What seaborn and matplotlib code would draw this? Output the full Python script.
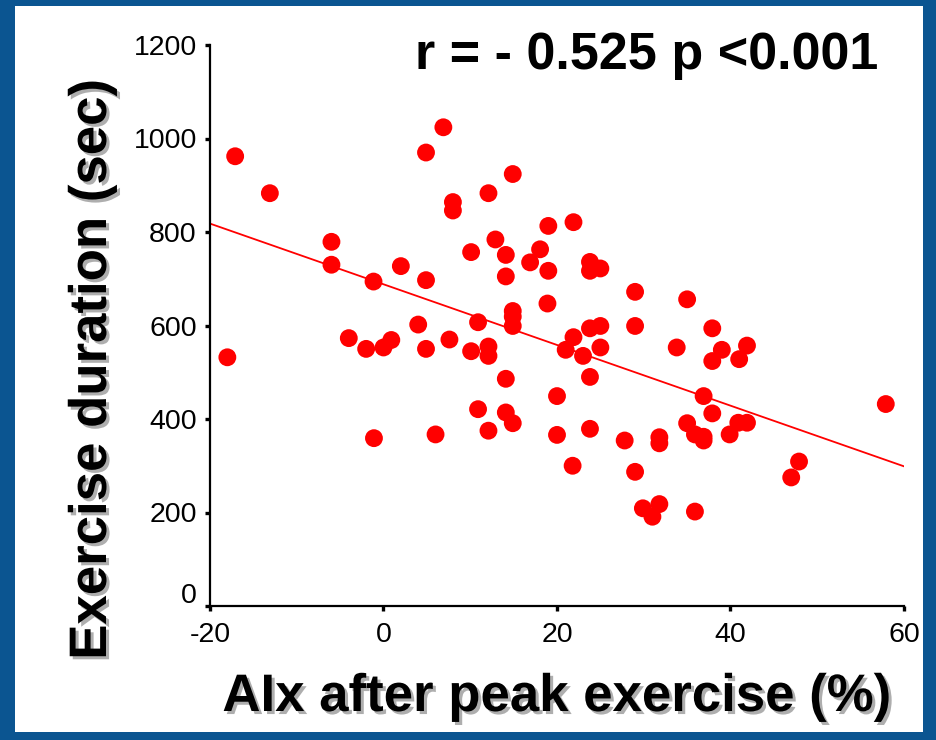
import numpy as np
import pandas as pd
import matplotlib
matplotlib.use("Agg")
import matplotlib.pyplot as plt
import matplotlib.patheffects as pe
from matplotlib.patches import Rectangle
from matplotlib.transforms import ScaledTranslation
import seaborn as sns

# ---- data ----
aix = [-18.0, -17.1, -13.1, -6.0, -6.0, -4.0, -2.0, -1.15, -1.1, 0.0,
       0.9, 2.0, 4.0, 4.9, 4.9, 4.9, 6.0, 6.9, 7.6, 8.0,
       8.0, 10.1, 10.1, 10.9, 10.9, 12.1, 12.1, 12.1, 12.1, 12.9,
       14.1, 14.1, 14.1, 14.1, 14.9, 14.9, 14.9, 14.9, 14.9, 16.9,
       18.05, 18.9, 19.0, 19.0, 20.0, 20.0, 21.0, 21.8, 21.9, 21.9,
       23.0, 23.8, 23.8, 23.8, 23.8, 23.8, 25.0, 25.0, 25.0, 27.8,
       29.0, 29.0, 29.0, 29.9, 31.0, 31.8, 31.8, 31.8, 33.8, 35.0,
       35.0, 35.9, 35.9, 36.9, 36.9, 36.9, 37.9, 37.9, 37.9, 39.0,
       39.9, 40.9, 41.0, 41.9, 41.9, 47.0, 47.9, 57.9]
duration = [532, 962, 883, 779, 730, 573, 550, 694, 359, 553,
            569, 727, 602, 697, 970, 550, 367, 1024, 570, 864,
            846, 757, 545, 607, 421, 883, 555, 535, 375, 784,
            751, 705, 486, 414, 924, 631, 619, 599, 391, 735,
            763, 647, 813, 717, 449, 366, 548, 300, 821, 575,
            535, 736, 717, 594, 490, 379, 722, 599, 553, 354,
            672, 599, 287, 209, 191, 218, 361, 348, 553, 656,
            391, 367, 202, 449, 362, 354, 594, 524, 412, 548,
            367, 392, 528, 557, 392, 275, 309, 432]
x_ticks = [-20, 0, 20, 40, 60]
y_ticks = [0, 200, 400, 600, 800, 1000, 1200]
annotation = "r = - 0.525 p <0.001"
x_label = "AIx after peak exercise (%)"
y_label = "Exercise duration (sec)"

df = pd.DataFrame({"aix": aix, "duration": duration})

sns.set_theme(style="white")
plt.rcParams["font.family"] = ["Liberation Sans", "DejaVu Sans"]

W, H = 937, 740
fig = plt.figure(figsize=(W / 100, H / 100), dpi=100)
fig.patch.set_facecolor("#0b5591")
fig.patches.append(Rectangle((15 / W, 1 - 732 / H), 908 / W, 726 / H,
                             transform=fig.transFigure, facecolor="white",
                             edgecolor="none", zorder=-5))

ax = fig.add_axes([210 / W, 1 - 606 / H, (904 - 210) / W, (606 - 45) / H])
ax.set_zorder(2)
ax.set_facecolor("none")
ax.set_xlim(-20, 60)
ax.set_ylim(0, 1200)

sns.regplot(data=df, x="aix", y="duration", ax=ax, ci=None, truncate=False,
            scatter_kws=dict(s=165, color="#ff0000", edgecolor="none", alpha=1, zorder=3),
            line_kws=dict(color="#ff0000", lw=1.3, zorder=2))
ax.set_xlim(-20, 60)
ax.set_ylim(0, 1200)

ax.set_xticks(x_ticks)
ax.set_yticks(y_ticks)
ax.set_xticklabels([str(t) for t in x_ticks])
ax.set_yticklabels([str(t) for t in y_ticks])
for s in ["top", "right"]:
    ax.spines[s].set_visible(False)
for s in ["left", "bottom"]:
    ax.spines[s].set_color("black")
    ax.spines[s].set_linewidth(1.6)
ax.tick_params(axis="both", which="major", direction="out", length=3.5, width=2.4,
               color="black", labelsize=20.5, labelcolor="black", bottom=True, left=True)
ax.tick_params(axis="y", pad=6)
ax.tick_params(axis="x", pad=8)
ax.set_xlabel("")
ax.set_ylabel("")

# the "0" label on the y axis sits a little above its tick in the reference
zero_lbl = ax.get_yticklabels()[0]
zero_lbl.set_transform(zero_lbl.get_transform() + ScaledTranslation(0, 0.13, fig.dpi_scale_trans))

shadow = [pe.SimplePatchShadow(offset=(2.2, -2.2), shadow_rgbFace="#9a9a9a", alpha=0.8), pe.Normal()]

fig.text(647 / W, 1 - 55 / H, annotation, ha="center", va="center",
         fontsize=37.5, fontweight="bold", color="black", zorder=5)
fig.text(556 / W, 1 - 697 / H, x_label, ha="center", va="center",
         fontsize=38, fontweight="bold", color="black", path_effects=shadow, zorder=5)
fig.text(92 / W, 1 - 370 / H, y_label, ha="center", va="center", rotation=90,
         fontsize=38, fontweight="bold", color="black", path_effects=shadow, zorder=5)

fig.savefig("out.png", dpi=100, facecolor=fig.get_facecolor())
